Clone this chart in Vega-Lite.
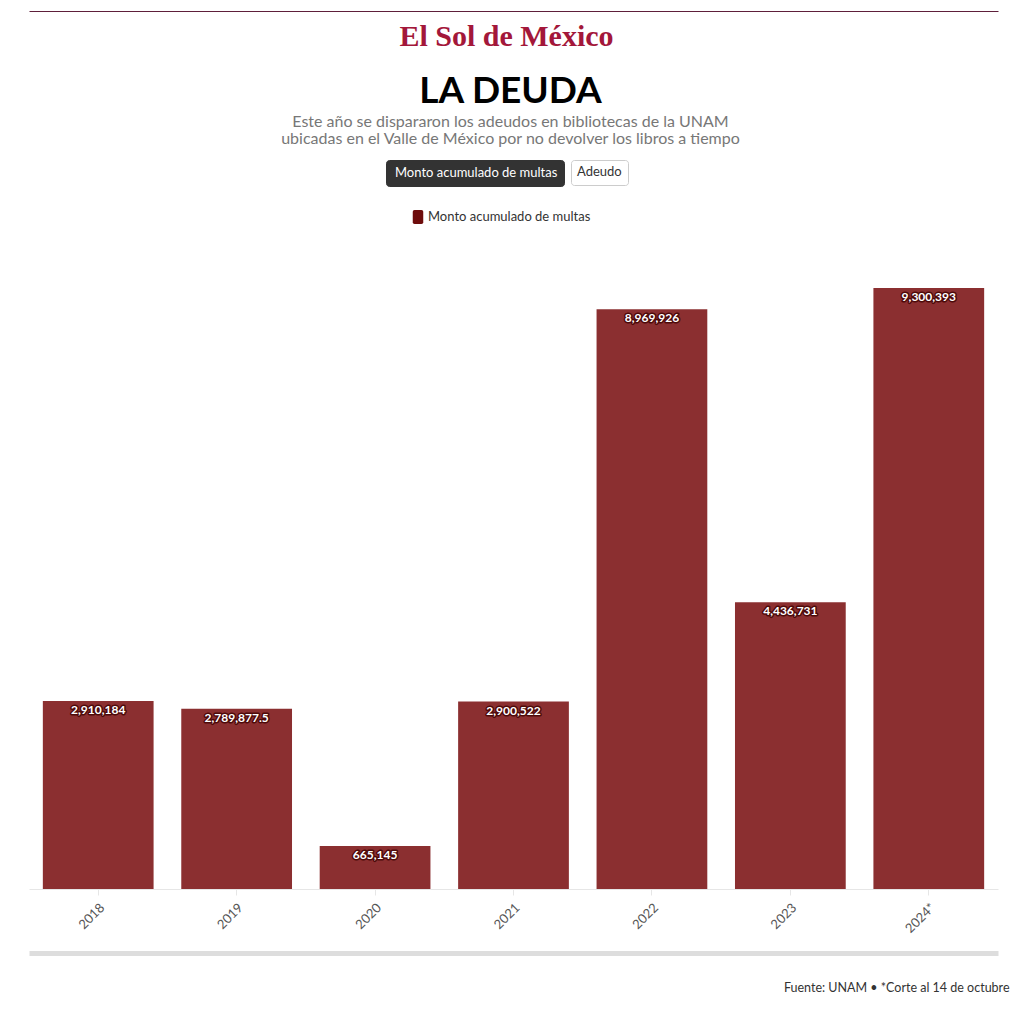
{
  "$schema": "https://vega.github.io/schema/vega-lite/v6.json",
  "autosize": {"type": "none"},
  "width": 969,
  "height": 601,
  "padding": {"left": 29, "top": 288, "right": 22, "bottom": 131},
  "background": "#ffffff",
  "config": {
    "view": {"stroke": null},
    "font": "Lato",
    "axis": {"labelFont": "Lato", "titleFont": "Lato"},
    "legend": {"labelFont": "Lato", "labelLimit": 400}
  },
  "data": {
    "values": [
      {"anio": "2018", "monto": 2910184, "serie": "Monto acumulado de multas", "activa": "Monto acumulado de multas", "otra": "Adeudo"},
      {"anio": "2019", "monto": 2789877.5, "serie": "Monto acumulado de multas", "activa": "Monto acumulado de multas", "otra": "Adeudo"},
      {"anio": "2020", "monto": 665145, "serie": "Monto acumulado de multas", "activa": "Monto acumulado de multas", "otra": "Adeudo"},
      {"anio": "2021", "monto": 2900522, "serie": "Monto acumulado de multas", "activa": "Monto acumulado de multas", "otra": "Adeudo"},
      {"anio": "2022", "monto": 8969926, "serie": "Monto acumulado de multas", "activa": "Monto acumulado de multas", "otra": "Adeudo"},
      {"anio": "2023", "monto": 4436731, "serie": "Monto acumulado de multas", "activa": "Monto acumulado de multas", "otra": "Adeudo"},
      {"anio": "2024*", "monto": 9300393, "serie": "Monto acumulado de multas", "activa": "Monto acumulado de multas", "otra": "Adeudo"}
    ]
  },
  "resolve": {"axis": {"x": "independent", "y": "independent"}},
  "layer": [
    {
      "mark": {"type": "bar", "color": "#8b2f30"},
      "encoding": {
        "x": {
          "field": "anio", "type": "ordinal", "sort": null,
          "scale": {"paddingInner": 0.2, "paddingOuter": 0.1},
          "axis": {
            "orient": "bottom",
            "labelAngle": -45,
            "labelFontSize": 13,
            "labelColor": "#555555",
            "labelPadding": 6,
            "domainColor": "#e6e6e6",
            "tickColor": "#e6e6e6",
            "tickSize": 6,
            "title": ["Este año se dispararon los adeudos en bibliotecas de la UNAM", "ubicadas en el Valle de México por no devolver los libros a tiempo"],
            "titleFontSize": 16,
            "titleFontWeight": "normal",
            "titleColor": "#777777",
            "titleLineHeight": 17,
            "titleAlign": "center",
            "titleBaseline": "alphabetic",
            "titleX": 481,
            "titleY": -763
          }
        },
        "y": {
          "field": "monto", "type": "quantitative",
          "scale": {"domain": [0, 9300393], "nice": false},
          "axis": {
            "orient": "left",
            "domain": false, "ticks": false, "labels": false, "grid": false,
            "title": "LA DEUDA",
            "titleAngle": 0,
            "titleFontSize": 37,
            "titleFontWeight": "bold",
            "titleColor": "#000000",
            "titleAlign": "center",
            "titleBaseline": "alphabetic",
            "titleX": 481,
            "titleY": -186
          }
        },
        "opacity": {
          "field": "activa", "type": "ordinal",
          "scale": {"range": [1]},
          "legend": {
            "orient": "none", "legendX": 357, "legendY": -128,
            "title": null, "padding": 6,
            "fillColor": "#333333", "strokeColor": "#333333", "cornerRadius": 3,
            "symbolType": "M0,0", "symbolSize": 196, "symbolStrokeWidth": 0, "labelOffset": -11,
            "labelFontSize": 13, "labelColor": "#ffffff"
          }
        },
        "strokeWidth": {
          "field": "otra", "type": "ordinal",
          "scale": {"range": [0]},
          "legend": {
            "orient": "none", "legendX": 542, "legendY": -128,
            "title": null, "padding": 6,
            "fillColor": "#ffffff", "strokeColor": "#cccccc", "cornerRadius": 3,
            "symbolType": "M0,0", "symbolSize": 196, "symbolStrokeWidth": 0, "labelOffset": 3,
            "labelBaseline": "top",
            "labelFontSize": 13, "labelColor": "#333333"
          }
        }
      }
    },
    {
      "mark": {"type": "text", "baseline": "top", "dy": 4, "font": "Lato", "fontSize": 12, "fontWeight": "bold", "stroke": "#4e0a0a", "strokeWidth": 3, "strokeJoin": "round"},
      "encoding": {
        "x": {
          "field": "anio", "type": "ordinal", "sort": null,
          "axis": {
            "orient": "top", "offset": 277,
            "labels": false, "ticks": false,
            "domainColor": "#5e1f3a", "domainWidth": 1,
            "title": "El Sol de México",
            "titleFont": "Liberation Serif",
            "titleFontSize": 30,
            "titleFontWeight": "bold",
            "titleColor": "#a3173a",
            "titleAlign": "center",
            "titleBaseline": "alphabetic",
            "titleX": 477,
            "titleY": 34
          }
        },
        "y": {"field": "monto", "type": "quantitative", "axis": null},
        "color": {
          "field": "serie", "type": "nominal",
          "scale": {"range": ["#6e0c0c"]},
          "legend": {
            "orient": "none", "legendX": 380, "legendY": -80,
            "title": null, "padding": 0,
            "symbolType": "M-0.4,-0.8 H0.4 Q0.6,-0.8 0.6,-0.6 V0.6 Q0.6,0.8 0.4,0.8 H-0.4 Q-0.6,0.8 -0.6,0.6 V-0.6 Q-0.6,-0.8 -0.4,-0.8 Z",
            "symbolSize": 306,
            "symbolStrokeWidth": 0,
            "symbolOpacity": 1,
            "labelOffset": 1,
            "labelFontSize": 13,
            "labelColor": "#333333"
          }
        },
        "text": {"field": "monto", "type": "quantitative", "format": ","}
      }
    },
    {
      "mark": {"type": "text", "baseline": "top", "dy": 4, "font": "Lato", "fontSize": 12, "fontWeight": "bold", "fill": "#ffffff"},
      "encoding": {
        "x": {
          "field": "anio", "type": "ordinal", "sort": null,
          "axis": {
            "orient": "bottom", "offset": 64,
            "labels": false, "ticks": false,
            "domainColor": "#dddddd", "domainWidth": 5,
            "title": "Fuente: UNAM • *Corte al 14 de octubre",
            "titleFontSize": 12.5,
            "titleFontWeight": "normal",
            "titleColor": "#333333",
            "titleAlign": "right",
            "titleBaseline": "alphabetic",
            "titleX": 980,
            "titleY": 38
          }
        },
        "y": {"field": "monto", "type": "quantitative", "axis": null},
        "text": {"field": "monto", "type": "quantitative", "format": ","}
      }
    }
  ]
}
